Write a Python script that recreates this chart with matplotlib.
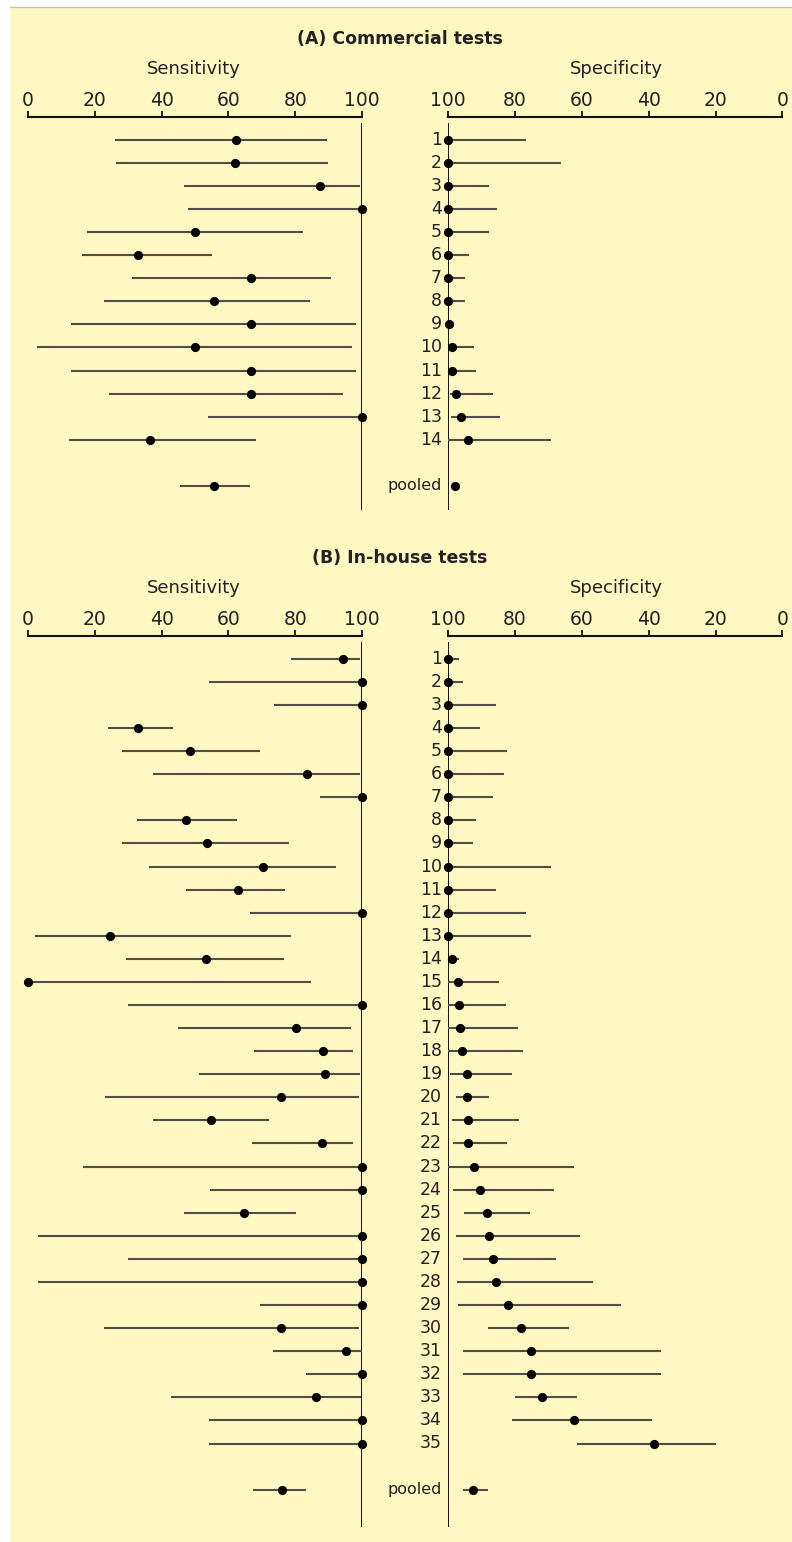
import matplotlib
matplotlib.use("Agg")
import matplotlib.pyplot as plt
from matplotlib.patches import Rectangle
from matplotlib.lines import Line2D

# ---------------- data ----------------
comm_labels = [str(i) for i in range(1, 15)] + ["pooled"]
comm_sens = [62.2, 62.1, 87.4, 100, 49.9, 33.0, 66.7, 55.6, 66.8, 50.0, 66.9, 66.9, 100, 36.4, 55.8]
comm_sens_lo = [26.0, 26.2, 46.8, 47.9, 17.6, 16.3, 31.2, 22.8, 12.9, 2.8, 12.8, 24.3, 54.0, 12.4, 45.5]
comm_sens_hi = [89.6, 89.9, 99.4, 100, 82.4, 55.2, 90.7, 84.4, 98.1, 96.9, 98.1, 94.2, 100, 68.2, 66.4]
comm_spec = [100, 100, 100, 100, 100, 100, 100, 100, 99.7, 98.9, 98.9, 97.6, 96.1, 94.1, 98.1]
comm_spec_lo = [76.7, 66.3, 87.9, 85.4, 87.9, 93.9, 95.0, 95.0, 99.0, 92.3, 91.7, 86.6, 84.4, 69.2, 96.6]
comm_spec_hi = [100, 100, 100, 100, 100, 100, 100, 100, 100, 100, 100, 99.6, 99.2, 100, 99.2]

inh_labels = [str(i) for i in range(1, 36)] + ["pooled"]
inh_sens = [94.2, 100, 100, 33.0, 48.4, 83.6, 100, 47.3, 53.6, 70.4, 62.8, 100, 24.6, 53.3, 0,
            100, 80.1, 88.4, 88.9, 75.6, 54.9, 88.0, 100, 100, 64.7, 100, 100, 100, 100, 75.8,
            95.1, 100, 86.1, 100, 100, 76.0]
inh_sens_lo = [78.6, 54.3, 73.8, 24.1, 28.2, 37.3, 87.4, 32.5, 28.2, 36.1, 47.2, 66.6, 2.2, 29.3, 0,
               29.8, 45.0, 67.8, 51.3, 23.0, 37.5, 67.2, 16.6, 54.5, 46.7, 3.1, 29.8, 3.1, 69.4, 22.9,
               73.4, 83.3, 42.9, 54.3, 54.3, 67.3]
inh_sens_hi = [99.3, 100, 100, 43.5, 69.4, 99.5, 100, 62.6, 78.1, 92.1, 77.0, 100, 78.7, 76.6, 84.6,
               100, 96.8, 97.3, 99.5, 99.1, 72.1, 97.3, 100, 100, 80.1, 100, 100, 100, 100, 99.1,
               100, 100, 99.6, 100, 100, 83.3]
inh_spec = [100, 100, 100, 100, 100, 100, 100, 100, 100, 100, 100, 100, 100, 98.8, 97.2,
            96.8, 96.4, 96.0, 94.4, 94.3, 94.0, 94.0, 92.4, 90.4, 88.4, 87.7, 86.6, 85.7, 82.0, 78.1,
            75.3, 75.3, 71.9, 62.4, 38.5, 92.5]
inh_spec_lo = [96.7, 95.5, 85.6, 90.5, 82.4, 83.2, 86.7, 91.8, 92.7, 69.2, 85.6, 76.8, 75.2, 96.7, 84.7,
               82.8, 79.2, 77.7, 80.8, 87.8, 78.9, 82.4, 62.4, 68.4, 75.6, 60.6, 67.8, 56.7, 48.3, 63.8,
               36.3, 36.3, 61.4, 38.9, 19.8, 88.2]
inh_spec_hi = [100, 100, 100, 100, 100, 100, 100, 100, 100, 100, 100, 100, 100, 100, 100,
               100, 100, 100, 99.4, 97.8, 98.9, 98.7, 100, 98.6, 95.2, 97.7, 95.6, 97.5, 97.0, 88.0,
               95.5, 95.5, 79.9, 80.8, 61.6, 95.6]

ticks = [0, 20, 40, 60, 80, 100]

# ---------------- style ----------------
plt.rcParams['font.family'] = ['DejaVu Sans']
BG = '#fff8c2'
TXT = '#222222'
LINE = '#4f4f47'

W, H = 792, 1542
fig = plt.figure(figsize=(W / 100, H / 100), dpi=100)
fig.patch.set_facecolor('white')
bg = Rectangle((10 / W, 0), 1 - 10 / W, 1 - 8 / H, transform=fig.transFigure,
               facecolor=BG, edgecolor='none', zorder=-10)
fig.add_artist(bg)
fig.add_artist(Line2D([10 / W, 1], [1 - 7.3 / H] * 2, transform=fig.transFigure,
                      color='#c9c3a6', lw=1.0, zorder=-9))

ROW = 23.08  # px per row


def make_axes(x0, y_axis, y_bottom):
    rect = [x0 / W, 1 - y_bottom / H, 334 / W, (y_bottom - y_axis) / H]
    ax = fig.add_axes(rect)
    ax.set_facecolor('none')
    ax.patch.set_alpha(0)
    for s in ['left', 'right', 'bottom']:
        ax.spines[s].set_visible(False)
    ax.spines['top'].set_linewidth(1.5)
    ax.spines['top'].set_color('#111111')
    ax.xaxis.tick_top()
    ax.set_xticks(ticks)
    ax.set_yticks([])
    ax.tick_params(axis='x', direction='out', length=4.5, width=1.3, color='#111111',
                   labelsize=13.5, labelcolor=TXT, pad=0.5)
    return ax


def panel(title, y_title, y_sub, y_axis, y_bottom, labels, s, slo, shi, p, plo, phi):
    n = len(labels)
    rows = list(range(1, n)) + [n + 1]  # pooled two rows below last study
    row_bottom = (y_bottom - y_axis) / ROW
    fig.text(400 / W, 1 - y_title / H, title, ha='center', va='center',
             fontsize=12.5, fontweight='bold', color=TXT)
    fig.text(194 / W, 1 - y_sub / H, 'Sensitivity', ha='center', va='center', fontsize=13, color=TXT)
    fig.text(616 / W, 1 - y_sub / H, 'Specificity', ha='center', va='center', fontsize=13, color=TXT)

    axs = make_axes(28, y_axis, y_bottom)
    axs.set_xlim(0, 100)
    axs.set_ylim(row_bottom, 0)
    axs.hlines(rows, slo, shi, color=LINE, lw=1.5, zorder=2)
    axs.plot(s, rows, 'o', color='black', ms=5.6, zorder=3, clip_on=False)
    axs.vlines(100, 0.28, row_bottom, color='#111111', lw=1.4, zorder=1)

    axp = make_axes(448.3, y_axis, y_bottom)
    axp.set_xlim(100, 0)
    axp.set_ylim(row_bottom, 0)
    axp.hlines(rows, plo, phi, color=LINE, lw=1.5, zorder=2)
    axp.plot(p, rows, 'o', color='black', ms=5.6, zorder=3, clip_on=False)
    axp.vlines(100, 0.28, row_bottom, color='#111111', lw=1.4, zorder=1)
    for lab, r in zip(labels, rows):
        fs = 11.5 if lab == 'pooled' else 12.5
        axp.annotate(lab, xy=(100, r), xytext=(-4.5, 0), textcoords='offset points',
                     ha='right', va='center', fontsize=fs, color=TXT, annotation_clip=False)


panel('(A) Commercial tests', 39, 69, 116.7, 510,
      comm_labels, comm_sens, comm_sens_lo, comm_sens_hi, comm_spec, comm_spec_lo, comm_spec_hi)
panel('(B) In-house tests', 558, 588, 635.7, 1526.7,
      inh_labels, inh_sens, inh_sens_lo, inh_sens_hi, inh_spec, inh_spec_lo, inh_spec_hi)

fig.savefig('out.png', dpi=100, facecolor=fig.get_facecolor())
